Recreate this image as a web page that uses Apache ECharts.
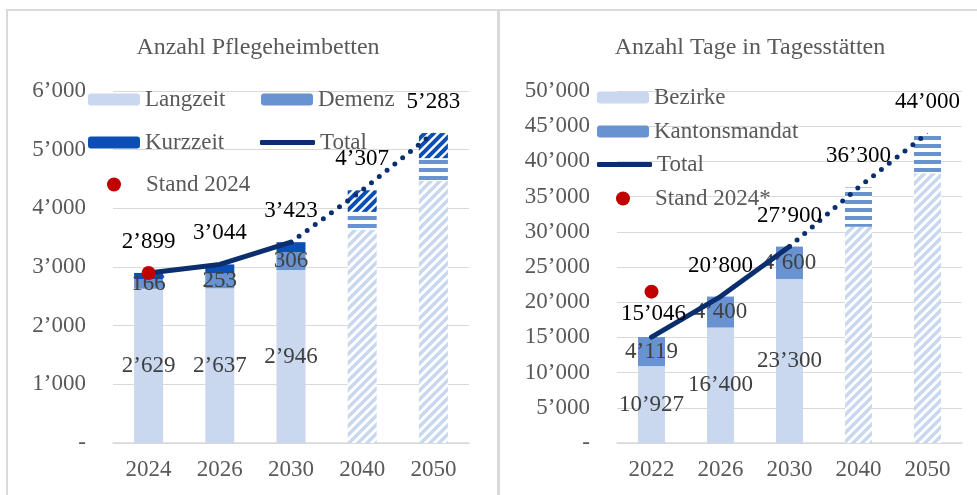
<!DOCTYPE html>
<html>
<head>
<meta charset="utf-8">
<script src="https://cdn.jsdelivr.net/npm/echarts@6/dist/echarts.min.js"></script>
<style>
  html, body { margin: 0; padding: 0; background: #fff; }
  #main { width: 977px; height: 495px; }
</style>
</head>
<body>
<div id="main"></div>
<script>
// Pflegeheimbetten
const years1 = ['2024', '2026', '2030', '2040', '2050'];
const langzeit = [2629, 2637, 2946, 3630, 4470];
const demenz = [166, 253, 306, 310, 385];
const kurzzeit = [104, 154, 171, 367, 428];
const total1 = [2899, 3044, 3423, 4307, 5283];
const stand1 = [2899, '-', '-', '-', '-'];

// Tagesstaetten
const years2 = ['2022', '2026', '2030', '2040', '2050'];
const bezirke = [10927, 16400, 23300, 30700, 38300];
const kanton = [4119, 4400, 4600, 5600, 5700];
const total2 = [15046, 20800, 27900, 36300, 44000];
const stand2 = [21500, '-', '-', '-', '-'];

const lastActual = 2; // 2030 is the last non-projected point

const cLight = '#c9d8ee', cMid = '#6892d0', cDark = '#0b4fb5', cNavy = '#0b2f6e', cRed = '#c00000';
const gray = '#595959';
const font = 'Liberation Serif, Times New Roman, serif';

function fmt(v) {
    if (v === 0) return '-';
    return String(v).replace(/\B(?=(\d{3})+(?!\d))/g, '\u2019');
}

// fill patterns for the projected years
function pattern(color, kind, size, lw) {
    const c = document.createElement('canvas');
    c.width = size; c.height = size;
    const g = c.getContext('2d');
    g.fillStyle = '#fff';
    g.fillRect(0, 0, size, size);
    if (kind === 'h') {
        g.fillStyle = color;
        g.fillRect(0, 0, size, lw);
    } else {
        g.strokeStyle = color;
        g.lineWidth = lw;
        g.beginPath();
        g.moveTo(-2, size + 2); g.lineTo(size + 2, -2);
        g.moveTo(-2, 2); g.lineTo(2, -2);
        g.moveTo(size - 2, size + 2); g.lineTo(size + 2, size - 2);
        g.stroke();
    }
    return { image: c, repeat: 'repeat' };
}
const patLight = pattern(cLight, 'd', 9, 3.5);
const patMid = pattern(cMid, 'h', 8, 4);
const patDark = pattern(cDark, 'd', 9, 4);

function barData(values, pat) {
    return values.map((v, i) => i > lastActual ? { value: v, itemStyle: { color: pat }, label: { show: false } } : v);
}
function solidPart(values) {
    return values.map((v, i) => i <= lastActual ? v : '-');
}
function dottedPart(values) {
    return values.map((v, i) => i < lastActual ? '-' : (i === lastActual ? { value: v, label: { show: false } } : v));
}

const segLabel = {
    show: true, position: 'inside', color: '#404040', fontSize: 23, fontFamily: font,
    formatter: p => fmt(p.value)
};
const totLabel = {
    show: true, position: 'top', distance: 19, color: '#000', fontSize: 23, fontFamily: font,
    formatter: p => fmt(p.value)
};

function lineSeries(name, data, idx, dotted, label) {
    return {
        name: name, type: 'line', xAxisIndex: idx, yAxisIndex: idx, data: data, z: 4,
        symbol: 'circle', symbolSize: 1, itemStyle: { color: cNavy },
        lineStyle: dotted ? { color: cNavy, width: 5, type: [0, 10], cap: 'round' } : { color: cNavy, width: 5, cap: 'round' },
        label: label, animation: false
    };
}

function legendAt(name, left, top, w, h, icon, padLeft) {
    const l = {
        data: [name], left: left, top: top, padding: 0, itemWidth: w, itemHeight: h, itemGap: 0,
        selectedMode: false,
        textStyle: { color: gray, fontSize: 23, fontFamily: font, padding: [0, 0, 0, padLeft || 0] }
    };
    if (icon) l.icon = icon;
    return l;
}

function xAxisFor(idx, cats) {
    return {
        type: 'category', gridIndex: idx, data: cats,
        axisLine: { lineStyle: { color: '#d9d9d9', width: 1.5 } }, axisTick: { show: false },
        axisLabel: { color: gray, fontSize: 23, fontFamily: font, margin: 15 }
    };
}
function yAxisFor(idx, max, step) {
    return {
        type: 'value', gridIndex: idx, min: 0, max: max, interval: step,
        axisLine: { show: false }, axisTick: { show: false },
        splitLine: { lineStyle: { color: '#d9d9d9', width: 1.2 } },
        axisLabel: { color: gray, fontSize: 23, fontFamily: font, margin: 27, formatter: fmt }
    };
}

const chart = echarts.init(document.getElementById('main'));
chart.setOption({
    animation: false,
    title: [
        { text: 'Anzahl Pflegeheimbetten', left: 253, top: 31, textAlign: 'center',
          textStyle: { color: gray, fontSize: 24, fontWeight: 'normal', fontFamily: font } },
        { text: 'Anzahl Tage in Tagesstätten', left: 745, top: 31, textAlign: 'center',
          textStyle: { color: gray, fontSize: 24, fontWeight: 'normal', fontFamily: font } }
    ],
    graphic: [
        { type: 'rect', shape: { x: 7, y: 10, width: 491, height: 500 }, style: { fill: 'none', stroke: '#d9d9d9', lineWidth: 2 }, silent: true },
        { type: 'rect', shape: { x: 499, y: 10, width: 500, height: 500 }, style: { fill: 'none', stroke: '#d9d9d9', lineWidth: 2 }, silent: true }
    ],
    legend: [
        legendAt('Langzeit', 88, 88, 52, 12),
        legendAt('Demenz', 261, 88, 52, 12),
        legendAt('Kurzzeit', 88, 131, 52, 12),
        legendAt('Total', 260, 131, 55, 5, 'roundRect'),
        legendAt('Stand 2024', 107, 173, 14, 14, 'circle', 20),
        legendAt('Bezirke', 597, 86, 52, 12),
        legendAt('Kantonsmandat', 597, 120, 52, 12),
        legendAt('Total', 597, 153, 55, 5, 'roundRect'),
        legendAt('Stand 2024*', 616, 187, 14, 14, 'circle', 20)
    ],
    grid: [
        { left: 113, top: 91, width: 356, height: 352 },
        { left: 617, top: 91, width: 345, height: 352 }
    ],
    xAxis: [xAxisFor(0, years1), xAxisFor(1, years2)],
    yAxis: [yAxisFor(0, 6000, 1000), yAxisFor(1, 50000, 5000)],
    series: [
        { name: 'Langzeit', type: 'bar', stack: 'a', barWidth: 29, xAxisIndex: 0, yAxisIndex: 0, itemStyle: { color: cLight }, label: segLabel, data: barData(langzeit, patLight) },
        { name: 'Demenz', type: 'bar', stack: 'a', barWidth: 29, xAxisIndex: 0, yAxisIndex: 0, itemStyle: { color: cMid }, label: segLabel, data: barData(demenz, patMid) },
        { name: 'Kurzzeit', type: 'bar', stack: 'a', barWidth: 29, xAxisIndex: 0, yAxisIndex: 0, itemStyle: { color: cDark }, data: barData(kurzzeit, patDark) },
        lineSeries('Total', solidPart(total1), 0, false, totLabel),
        lineSeries('Total Prognose', dottedPart(total1), 0, true, totLabel),
        { name: 'Stand 2024', type: 'scatter', xAxisIndex: 0, yAxisIndex: 0, symbolSize: 14, z: 5, itemStyle: { color: cRed, opacity: 1 }, data: stand1 },

        { name: 'Bezirke', type: 'bar', stack: 'b', barWidth: 27, xAxisIndex: 1, yAxisIndex: 1, itemStyle: { color: cLight }, label: segLabel, data: barData(bezirke, patLight) },
        { name: 'Kantonsmandat', type: 'bar', stack: 'b', barWidth: 27, xAxisIndex: 1, yAxisIndex: 1, itemStyle: { color: cMid }, label: segLabel, data: barData(kanton, patMid) },
        lineSeries('Total', solidPart(total2).map((v, i) => i === 0 ? { value: v, label: { offset: [2, 8] } } : v), 1, false, totLabel),
        lineSeries('Total Prognose', dottedPart(total2), 1, true, totLabel),
        { name: 'Stand 2024*', type: 'scatter', xAxisIndex: 1, yAxisIndex: 1, symbolSize: 14, z: 5, itemStyle: { color: cRed, opacity: 1 }, data: stand2 }
    ]
});
</script>
</body>
</html>
